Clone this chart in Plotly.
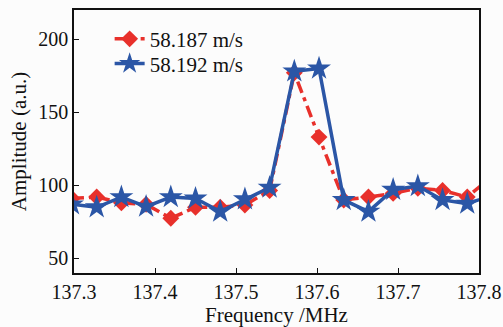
import plotly.graph_objects as go

# Frequency samples (MHz)
freq = [137.2975, 137.328, 137.3585, 137.389, 137.4195, 137.45, 137.4805, 137.511,
        137.5415, 137.572, 137.6025, 137.633, 137.6635, 137.694, 137.7245, 137.755,
        137.7855, 137.816]

# Amplitude for each wind speed (a.u.)
amp_58187 = [91, 92, 88, 87, 77.5, 85, 85, 86.5, 96.5, 177, 133, 90, 92, 94.5, 98, 96.5, 92, 106]
amp_58192 = [87, 85, 92, 85.5, 92, 91, 82, 90.5, 98.5, 178, 180, 90, 82, 97, 99.5, 90, 87.5, 93]

names = ["58.187 m/s", "58.192 m/s"]
x_ticks = [137.3, 137.4, 137.5, 137.6, 137.7, 137.8]
y_ticks = [50, 100, 150, 200]

FONT = "Liberation Serif, DejaVu Serif, serif"
RED = "#e8302b"
BLUE = "#2b56a6"

fig = go.Figure()
fig.add_trace(go.Scatter(
    x=freq, y=amp_58187, name=names[0], mode="lines+markers",
    line=dict(color=RED, width=3.5, dash="12px,5px,4px,5px"),
    marker=dict(symbol="diamond", size=13, color=RED),
    cliponaxis=True, legend="legend",
))
fig.add_trace(go.Scatter(
    x=freq, y=amp_58192, name=names[1], mode="lines+markers",
    line=dict(color=BLUE, width=3.5),
    marker=dict(symbol="star", size=18, color=BLUE),
    cliponaxis=True, legend="legend2",
))

axis_common = dict(
    showline=True, linecolor="#111", linewidth=1.5, mirror=True,
    ticks="inside", ticklen=5, tickwidth=1.2, tickcolor="#111",
    showgrid=False, zeroline=False, automargin=False,
    ticklabeloverflow="allow",
    tickfont=dict(family=FONT, size=20, color="#111"),
)

fig.update_xaxes(
    range=[137.29999, 137.80001], tickvals=x_ticks, ticktext=[f"{v:.1f}" for v in x_ticks],
    title=dict(text="Frequency /MHz", font=dict(family=FONT, size=21, color="#111"), standoff=2),
    **axis_common,
)
fig.update_yaxes(
    range=[40, 220], tickvals=y_ticks,
    title=dict(text="Amplitude (a.u.)", font=dict(family=FONT, size=21, color="#111"), standoff=6),
    **axis_common,
)

legend_style = dict(
    x=0.088, xanchor="left", yanchor="middle",
    bgcolor="rgba(0,0,0,0)", borderwidth=0,
    font=dict(family=FONT, size=21, color="#111"),
    itemwidth=30,
)

fig.update_layout(
    width=503, height=327,
    margin=dict(l=74, r=24, t=10, b=54),
    paper_bgcolor="#fcfcfc", plot_bgcolor="#fcfcfc",
    showlegend=True,
    legend=dict(y=0.889, **legend_style),
    legend2=dict(y=0.795, **legend_style),
)

fig.write_html("out.html")
